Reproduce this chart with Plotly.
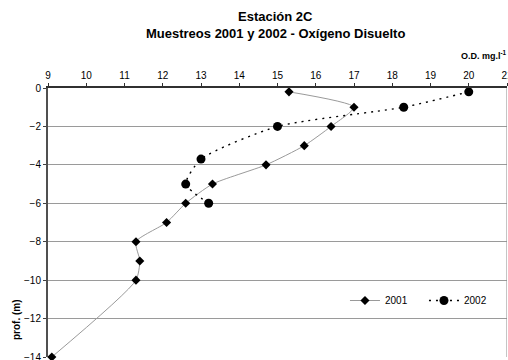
import plotly.graph_objects as go

# Dissolved oxygen profiles (mg/l) against depth (m)
od_2001 = [15.3, 17.0, 16.4, 15.7, 14.7, 13.3, 12.6, 12.1, 11.3, 11.4, 11.3, 9.1]
prof_2001 = [-0.2, -1, -2, -3, -4, -5, -6, -7, -8, -9, -10, -14]

od_2002 = [20.0, 18.3, 15.0, 13.0, 12.6, 13.2]
prof_2002 = [-0.2, -1, -2, -3.7, -5, -6]

x_ticks = list(range(9, 22))
y_ticks = list(range(0, -15, -2))

FONT = "Liberation Sans, Arial, sans-serif"

fig = go.Figure()
fig.add_trace(go.Scatter(
    x=od_2001, y=prof_2001, name="2001", mode="lines+markers",
    line=dict(color="#9a9a9a", width=1, shape="spline", smoothing=0.6),
    marker=dict(symbol="diamond", size=7, color="black"),
    cliponaxis=False,
))
fig.add_trace(go.Scatter(
    x=od_2002, y=prof_2002, name="2002", mode="lines+markers",
    line=dict(color="black", width=1.4, dash="2px,5px", shape="spline", smoothing=0.6),
    marker=dict(symbol="circle", size=9, color="black"),
    cliponaxis=False,
))

fig.update_layout(
    width=508, height=360,
    margin=dict(l=48, r=1, t=88, b=3, autoexpand=False),
    paper_bgcolor="white", plot_bgcolor="white",
    font=dict(family=FONT, size=10, color="black"),
    showlegend=True,
    legend=dict(
        orientation="h", x=0.647, y=0.21, xanchor="left", yanchor="middle",
        font=dict(size=10), bgcolor="rgba(0,0,0,0)", itemwidth=30,
        entrywidth=34, tracegroupgap=0,
    ),
    xaxis=dict(
        side="top", range=[9, 21], tickvals=x_ticks,
        ticks="outside", ticklen=3, tickcolor="#303030", tickwidth=1,
        showline=True, linecolor="#303030", linewidth=1.5,
        showgrid=False, zeroline=False, tickfont=dict(size=10),
        ticklabeloverflow="allow",
    ),
    yaxis=dict(
        range=[-14, 0], tickvals=y_ticks,
        ticks="outside", ticklen=3, tickcolor="#404040", tickwidth=1,
        showline=True, linecolor="#505050", linewidth=2,
        showgrid=True, gridcolor="#9a9a9a", gridwidth=1.3,
        zeroline=False, tickfont=dict(size=10),
        ticklabeloverflow="allow",
    ),
    shapes=[dict(type="line", xref="x", yref="y", x0=21, x1=21, y0=-14, y1=0,
                 line=dict(color="#8a8a8a", width=1))],
)

# Free text placed in pixel terms relative to the plot area
plot_l, plot_t, plot_w, plot_h = 48, 88, 459, 269


def to_paper(px, py):
    return (px - plot_l) / plot_w, 1 - (py - plot_t) / plot_h


labels = [
    ("<b>Estación 2C</b>", 275, 17, 13, 0),
    ("<b>Muestreos 2001 y 2002 - Oxígeno Disuelto</b>", 275, 33, 13, 0),
    ("<b>O.D. mg.l<sup>-1</sup></b>", 484, 55, 9, 0),
    ("<b>prof. (m)</b>", 16, 320, 10, -90),
]
for text, px, py, size, angle in labels:
    ax, ay = to_paper(px, py)
    fig.add_annotation(text=text, xref="paper", yref="paper", x=ax, y=ay,
                       xanchor="center", yanchor="middle", showarrow=False,
                       textangle=angle, font=dict(size=size))

fig.write_html("out.html")
